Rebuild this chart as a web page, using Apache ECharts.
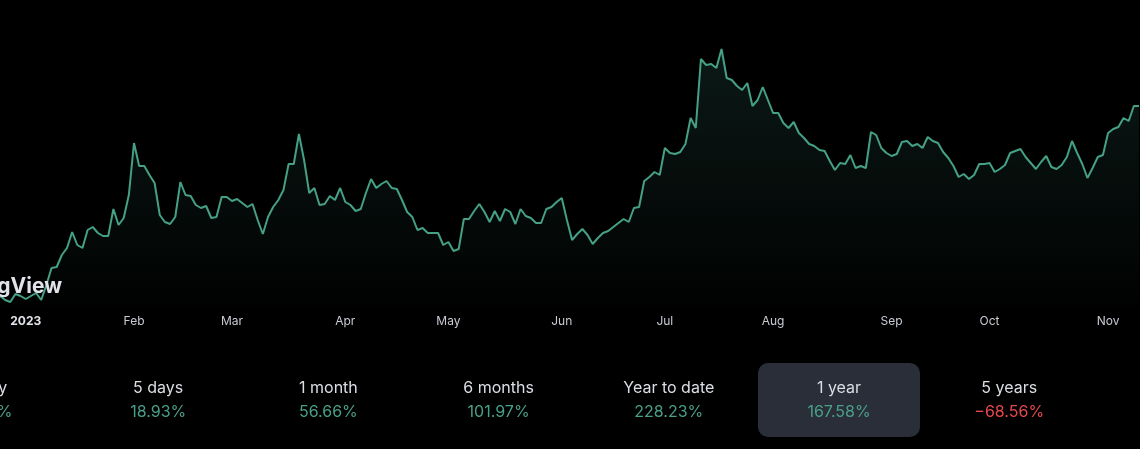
<!DOCTYPE html>
<html>
<head>
<meta charset="utf-8">
<style>
  html, body { margin: 0; padding: 0; background: #000; }
  #chart { width: 1140px; height: 449px; }
</style>
<script src="https://cdn.jsdelivr.net/npm/echarts@6/dist/echarts.min.js"></script>
</head>
<body>
<div id="chart"></div>
<script>
// Daily closes (trading days, late Dec 2022 -> early Nov 2023)
const prices = [
  0.9, 0.5, 0.3, 1.1, 0.9, 0.6, 0.9, 1.2, 0.5, 2.0,
  3.7, 3.8, 5.0, 5.7, 7.3, 6.0, 5.7, 7.5, 7.8, 7.2,
  6.9, 6.9, 9.6, 8.0, 8.7, 11.0, 16.2, 13.9, 13.9, 13.0,
  12.2, 9.0, 8.3, 8.1, 8.8, 12.3, 11.0, 10.9, 10.0, 9.7,
  9.9, 8.7, 8.8, 10.8, 10.8, 10.4, 10.6, 10.2, 9.8, 10.1,
  8.5, 7.1, 8.8, 9.8, 10.5, 11.5, 14.1, 14.1, 17.1, 14.5,
  11.2, 11.7, 10.0, 10.1, 10.9, 10.5, 11.7, 10.3, 10.0, 9.4,
  9.6, 11.2, 12.6, 11.7, 12.1, 12.4, 11.7, 11.6, 10.5, 9.3,
  8.8, 7.5, 7.7, 7.2, 7.2, 7.2, 6.0, 6.3, 5.4, 5.6,
  8.6, 8.6, 9.4, 10.1, 9.3, 8.3, 9.4, 8.4, 9.6, 9.3,
  8.1, 9.6, 8.9, 8.7, 8.2, 8.2, 9.6, 9.8, 10.3, 10.7,
  8.5, 6.5, 7.1, 7.6, 7.0, 6.1, 6.7, 7.2, 7.4, 7.8,
  8.2, 8.6, 8.3, 9.7, 9.8, 12.4, 12.8, 13.3, 13.0, 15.7,
  15.2, 15.1, 15.3, 16.1, 18.7, 17.7, 24.6, 24.0, 24.1, 23.7,
  25.6, 22.7, 22.5, 21.9, 21.5, 22.2, 19.9, 20.5, 21.8, 20.5,
  19.2, 19.2, 18.2, 17.7, 18.3, 17.2, 16.7, 16.1, 15.9, 15.5,
  15.4, 14.4, 13.5, 14.2, 14.1, 15.0, 13.7, 13.9, 13.7, 17.3,
  17.0, 15.7, 15.2, 14.9, 15.1, 16.3, 16.4, 15.9, 16.1, 15.7,
  16.8, 16.4, 16.2, 15.3, 14.7, 13.9, 12.8, 13.1, 12.6, 13.0,
  14.1, 14.1, 14.2, 13.3, 13.6, 14.0, 15.2, 15.4, 15.6, 14.8,
  14.2, 13.6, 14.3, 14.9, 13.8, 13.6, 14.0, 14.8, 16.4, 15.2,
  14.1, 12.7, 13.7, 14.8, 15.0, 17.2, 17.6, 17.8, 18.7, 18.4,
  19.9, 19.9
];

// Month tick labels: index of the trading day where each label sits
const tickIndex  = [5, 26, 45, 67, 87, 109, 129, 150, 173, 192, 215];
const tickLabels = ['2023', 'Feb', 'Mar', 'Apr', 'May', 'Jun', 'Jul', 'Aug', 'Sep', 'Oct', 'Nov'];

// Performance row
const perfLabels = ['1 day', '5 days', '1 month', '6 months', 'Year to date', '1 year', '5 years'];
const perfValues = ['9.35%', '18.93%', '56.66%', '101.97%', '228.23%', '167.58%', '\u221268.56%'];
const perfPositive = [true, true, true, true, true, true, false];
const perfSelected = 5;

const categories = prices.map((_, i) => String(i));
const labelMap = {};
tickIndex.forEach((idx, k) => { labelMap[idx] = tickLabels[k]; });

const FONT = 'Inter, "Noto Sans", sans-serif';
const GREEN = '#4a9f88';
const RED = '#e5484d';

const graphics = [];
// TradingView watermark (cropped at the left edge)
graphics.push({
  type: 'text', z: 10,
  x: 62, y: 287,
  style: {
    text: 'TradingView', align: 'right', verticalAlign: 'middle',
    fontFamily: FONT, fontSize: 21, fontWeight: 700, fill: '#e1e3ea'
  }
});
// selected box
const step = 170.2, firstCenter = -12;
graphics.push({
  type: 'rect', z: 5,
  shape: { x: 758, y: 363, width: 162, height: 74, r: 10 },
  style: { fill: '#2a2e39' }
});
perfLabels.forEach((lab, k) => {
  const cx = firstCenter + step * k;
  graphics.push({
    type: 'text', z: 10, x: cx, y: 388,
    style: { text: lab, align: 'center', verticalAlign: 'middle',
      fontFamily: FONT, fontSize: 16, fill: '#dcdee5' }
  });
  graphics.push({
    type: 'text', z: 10, x: cx, y: 412,
    style: { text: perfValues[k], align: 'center', verticalAlign: 'middle',
      fontFamily: FONT, fontSize: 16, fill: perfPositive[k] ? GREEN : RED }
  });
});

const chart = echarts.init(document.getElementById('chart'), null, { renderer: 'canvas' });
chart.setOption({
  backgroundColor: '#000000',
  animation: false,
  grid: { left: -1, right: 1, top: 0, bottom: 144, containLabel: false },
  xAxis: {
    type: 'category',
    data: categories,
    boundaryGap: false,
    axisLine: { show: false },
    axisTick: { show: false },
    splitLine: { show: false },
    axisLabel: {
      show: true,
      interval: (index) => labelMap[index] !== undefined,
      hideOverlap: false,
      margin: 10,
      fontFamily: FONT,
      fontSize: 12,
      color: '#c8cbd3',
      formatter: (value, index) => {
        const t = labelMap[index];
        if (t === undefined) return '';
        return t === '2023' ? '{b|' + t + '}' : t;
      },
      rich: {
        b: { fontFamily: FONT, fontSize: 12, fontWeight: 700, color: '#e1e3ea' }
      }
    }
  },
  yAxis: {
    type: 'value',
    min: 0,
    max: 30.5,
    show: false,
    splitLine: { show: false }
  },
  series: [{
    type: 'line',
    data: prices,
    symbol: 'none',
    smooth: false,
    lineStyle: { color: '#45a086', width: 2 },
    areaStyle: {
      origin: 'start',
      color: new echarts.graphic.LinearGradient(0, 0, 0, 1, [
        { offset: 0, color: 'rgba(70,160,140,0.22)' },
        { offset: 1, color: 'rgba(70,160,140,0.02)' }
      ])
    }
  }],
  graphic: graphics
});
</script>
</body>
</html>
